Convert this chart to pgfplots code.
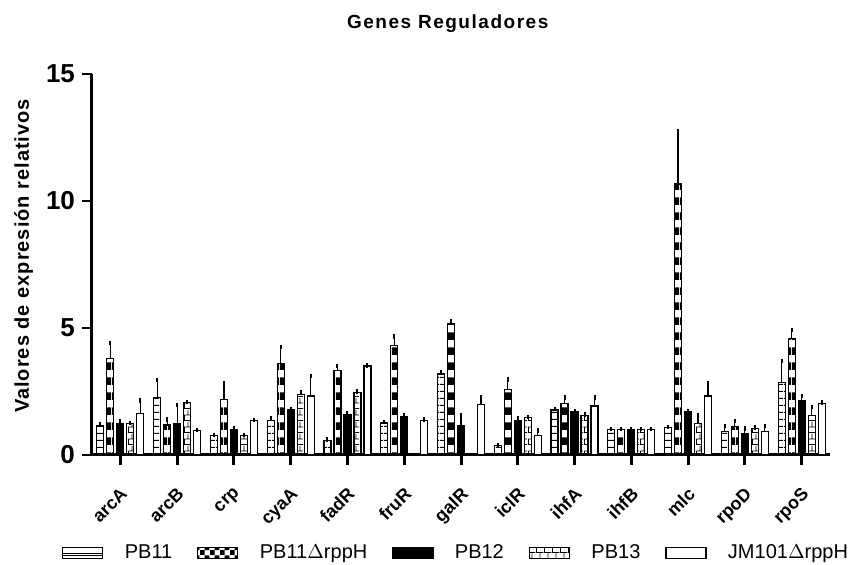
\documentclass[border=0pt]{standalone}
\usepackage{pgfplots}
\usepackage{pgfplotstable}
\pgfplotsset{compat=1.18}
\usepackage{fontspec}
\setmainfont{Liberation Sans}
\newfontfamily\tracked[LetterSpace=8]{Liberation Sans}
\newfontfamily\trackedy[LetterSpace=5]{Liberation Sans}
\usetikzlibrary{patterns}

\pgfdeclarepatternformonly{pbhlines}{\pgfqpoint{0pt}{0pt}}{\pgfqpoint{4pt}{3.7pt}}{\pgfqpoint{4pt}{3.7pt}}{%
  \pgfpathrectangle{\pgfqpoint{0pt}{0pt}}{\pgfqpoint{4pt}{0.55pt}}\pgfusepath{fill}}
\pgfdeclarepatternformonly{pbbands}{\pgfqpoint{0pt}{0pt}}{\pgfqpoint{4pt}{7.5pt}}{\pgfqpoint{4pt}{7.5pt}}{%
  \pgfpathrectangle{\pgfqpoint{0pt}{0pt}}{\pgfqpoint{4pt}{4pt}}\pgfusepath{fill}}
\pgfdeclarepatternformonly{pbbricks}{\pgfqpoint{0pt}{0pt}}{\pgfqpoint{4pt}{6pt}}{\pgfqpoint{4pt}{6pt}}{%
  \pgfpathrectangle{\pgfqpoint{0pt}{0pt}}{\pgfqpoint{4pt}{0.45pt}}%
  \pgfpathrectangle{\pgfqpoint{0pt}{3pt}}{\pgfqpoint{4pt}{0.45pt}}%
  \pgfpathrectangle{\pgfqpoint{0pt}{0pt}}{\pgfqpoint{0.45pt}{3pt}}%
  \pgfpathrectangle{\pgfqpoint{2pt}{3pt}}{\pgfqpoint{0.45pt}{3pt}}%
  \pgfusepath{fill}}
\pgfdeclarepatternformonly{pbchecker}{\pgfqpoint{0pt}{0pt}}{\pgfqpoint{5pt}{5pt}}{\pgfqpoint{5pt}{5pt}}{%
  \pgfpathrectangle{\pgfqpoint{0pt}{0pt}}{\pgfqpoint{2.5pt}{2.5pt}}%
  \pgfpathrectangle{\pgfqpoint{2.5pt}{2.5pt}}{\pgfqpoint{2.5pt}{2.5pt}}\pgfusepath{fill}}

% x = gene index (0 arcA ... 12 rpoS), y = mean, e = upper error
\pgfplotstableread{
x y e
0 1.17 0.03
1 2.26 0.70
2 0.76 0.03
3 1.35 0.11
4 0.58 0.03
5 1.26 0.03
6 3.19 0.07
7 0.37 0.02
8 1.77 0.04
9 1.00 0.02
10 1.07 0.03
11 0.94 0.20
12 2.86 0.85
}\tPBa
\pgfplotstableread{
x y e
0 3.80 0.62
1 1.18 0.21
2 2.18 0.64
3 3.60 0.66
4 3.32 0.18
5 4.30 0.36
6 5.18 0.08
7 2.59 0.39
8 2.02 0.24
9 1.00 0.02
10 10.67 2.09
11 1.13 0.22
12 4.58 0.34
}\tPBb
\pgfplotstableread{
x y e
0 1.25 0.10
1 1.25 0.73
2 1.01 0.03
3 1.77 0.05
4 1.60 0.04
5 1.51 0.04
6 1.15 0.40
7 1.35 0.08
8 1.69 0.03
9 1.00 0.02
10 1.69 0.04
11 0.85 0.20
12 2.15 0.17
}\tPBc
\pgfplotstableread{
x y e
0 1.23 0.03
1 2.06 0.03
2 0.76 0.03
3 2.39 0.08
4 2.47 0.03
7 1.47 0.03
8 1.56 0.03
9 1.00 0.02
10 1.25 0.30
11 1.05 0.03
12 1.57 0.31
}\tPBd
\pgfplotstableread{
x y e
0 1.63 0.51
1 0.96 0.03
2 1.35 0.03
3 2.32 0.79
4 3.50 0.03
5 1.37 0.03
6 2.00 0.26
7 0.76 0.20
8 1.93 0.33
9 1.00 0.02
10 2.32 0.49
11 0.94 0.20
12 2.03 0.04
}\tJM

\pgfplotsset{
  pbbar/.style={draw=black, line width=0.6pt,
    error bars/y dir=plus, error bars/y explicit,
    error bars/error bar style={line width=0.6pt, black, solid},
    error bars/error mark options={mark size=1.1pt, line width=1pt, black}},
}

\begin{document}
\begin{tikzpicture}
\begin{axis}[
  at={(0,0)}, anchor=south west,
  scale only axis, width=369pt, height=190.5pt,
  ybar=1.5pt, bar width=3.5pt,
  xmin=-0.5, xmax=12.5, ymin=0, ymax=15,
  axis lines=left,
  axis line style={-, line width=1.5pt, black},
  xtick={0,...,12},
  xticklabels={arcA,arcB,crp,cyaA,fadR,fruR,galR,iclR,ihfA,ihfB,mlc,rpoD,rpoS},
  ytick={0,5,10,15},
  tick align=outside, major tick length=5pt,
  xtick style={line width=1.5pt, black},
  ytick style={line width=1pt, black},
  xticklabel shift=9pt,
  x tick label style={xshift=-0.5pt, rotate=45, anchor=north east, inner sep=1pt,
    font=\bfseries\fontsize{9}{10}\selectfont},
  y tick label style={font=\bfseries\fontsize{13}{15}\selectfont},
  /pgf/number format/assume math mode=true,
  ylabel={Valores de expresión relativos},
  ylabel style={at={(axis description cs:-0.0854,0.5223)}, anchor=base,
    font=\trackedy\bfseries\fontsize{10}{12}\selectfont},
  title={Genes Reguladores},
  title style={at={(axis description cs:0.482,1.089)}, anchor=base,
    font=\tracked\bfseries\fontsize{9.5}{11}\selectfont},
  legend columns=5,
  legend style={at={(-0.049,-0.2572)}, anchor=west, draw=none, fill=none,
    font=\fontsize{10}{11}\selectfont,
    /tikz/every even column/.append style={column sep=10.5pt}},
  clip=false,
]
\addplot[pbbar, pattern=pbhlines,
  legend image code/.code={%
    \draw[black,line width=0.6pt,fill=white] (0pt,-2.75pt) rectangle (20pt,2.75pt);
    \draw[black,line width=0.5pt] (0pt,-0.3pt)--(20pt,-0.3pt) (0pt,-1.5pt)--(20pt,-1.5pt);
    \path[draw=none,fill=none] (0pt,0pt)--(29pt,0pt);}]
  table[x=x,y=y,y error=e]{\tPBa};
\addlegendentry{PB11}
\addplot[pbbar, pattern=pbbands,
  legend image code/.code={%
    \draw[black,line width=0.6pt,pattern=pbchecker] (0pt,-2.75pt) rectangle (20pt,2.75pt);
    \path[draw=none,fill=none] (0pt,0pt)--(29pt,0pt);}]
  table[x=x,y=y,y error=e]{\tPBb};
\addlegendentry{PB11$\Delta$rppH}
\addplot[pbbar, fill=black,
  legend image code/.code={%
    \draw[black,line width=0.6pt,fill=black] (0pt,-2.75pt) rectangle (20pt,2.75pt);
    \path[draw=none,fill=none] (0pt,0pt)--(29pt,0pt);}]
  table[x=x,y=y,y error=e]{\tPBc};
\addlegendentry{PB12}
\addplot[pbbar, pattern=pbbricks,
  legend image code/.code={%
    \draw[black,line width=0.6pt,pattern=pbbricks] (0pt,-2.75pt) rectangle (20pt,2.75pt);
    \path[draw=none,fill=none] (0pt,0pt)--(29pt,0pt);}]
  table[x=x,y=y,y error=e]{\tPBd};
\addlegendentry{PB13}
\addplot[pbbar, fill=white,
  legend image code/.code={%
    \draw[black,line width=0.6pt,fill=white] (0pt,-2.75pt) rectangle (20pt,2.75pt);
    \path[draw=none,fill=none] (0pt,0pt)--(29pt,0pt);}]
  table[x=x,y=y,y error=e]{\tJM};
\addlegendentry{JM101$\Delta$rppH}
\end{axis}
\pgfresetboundingbox
\useasboundingbox (-46pt,-55pt) rectangle (384pt,227.5pt);
\end{tikzpicture}
\end{document}
